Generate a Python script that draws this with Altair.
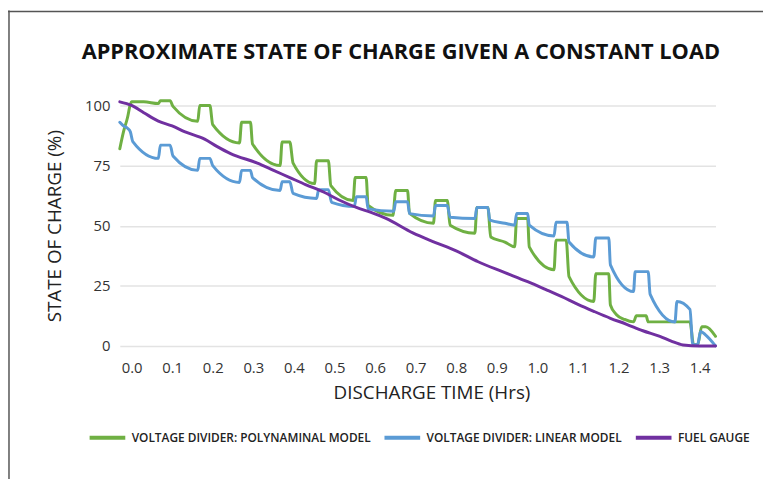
import altair as alt
import pandas as pd

series_names = [
    "VOLTAGE DIVIDER: POLYNAMINAL MODEL",
    "VOLTAGE DIVIDER: LINEAR MODEL",
    "FUEL GAUGE",
]
series_colors = ["#6FB043", "#5B9BD5", "#7030A0"]

x_ticks = [0.0, 0.1, 0.2, 0.3, 0.4, 0.5, 0.6, 0.7, 0.8, 0.9, 1.0, 1.1, 1.2, 1.3, 1.4]
y_ticks = [0, 25, 50, 75, 100]

green_t = [-0.029, -0.020, -0.010, -0.003, 0.000, 0.030, 0.066, 0.071, 0.095, 0.102,
           0.163, 0.168, 0.193, 0.200, 0.266, 0.271, 0.293, 0.298, 0.366, 0.371,
           0.390, 0.398, 0.451, 0.456, 0.485, 0.491, 0.546, 0.551, 0.578, 0.583,
           0.644, 0.651, 0.680, 0.685, 0.744, 0.749, 0.778, 0.785, 0.846, 0.851,
           0.878, 0.885, 0.920, 0.944, 0.949, 0.976, 0.980, 1.041, 1.046, 1.071,
           1.078, 1.139, 1.144, 1.176, 1.180, 1.195, 1.215, 1.237, 1.244, 1.268,
           1.273, 1.376, 1.385, 1.395, 1.405, 1.415, 1.439]
green_v = [82, 89, 95, 100.5, 101.5, 101.5, 100.8, 102, 102, 99.6,
           93.4, 100, 100, 92, 84.4, 93, 93, 84, 75, 84.8,
           84.8, 76, 67.5, 77, 77, 66.7, 60.5, 70, 70, 58.4,
           54.3, 64.6, 64.6, 55.1, 51, 60.5, 60.5, 50.2, 46.9, 57.6,
           57.6, 45.3, 43.2, 41.2, 53, 53, 41.2, 31.7, 44, 44,
           28.8, 18.5, 30, 30, 17, 13, 11, 10, 12.5, 12.5,
           10, 10, 0.5, 0.5, 8, 8, 4]

blue_t = [-0.029, -0.020, -0.010, -0.003, 0.003, 0.066, 0.071, 0.095, 0.102, 0.163,
          0.168, 0.193, 0.200, 0.266, 0.271, 0.293, 0.298, 0.366, 0.371, 0.390,
          0.398, 0.456, 0.461, 0.485, 0.493, 0.549, 0.554, 0.578, 0.583, 0.646,
          0.651, 0.680, 0.685, 0.744, 0.749, 0.778, 0.785, 0.846, 0.851, 0.878,
          0.883, 0.920, 0.944, 0.949, 0.976, 0.980, 1.041, 1.046, 1.073, 1.078,
          1.139, 1.144, 1.176, 1.180, 1.237, 1.241, 1.273, 1.278, 1.339, 1.344,
          1.376, 1.383, 1.395, 1.402, 1.415, 1.439]
blue_v = [93, 91.5, 90.5, 89, 85, 78, 83.5, 83.5, 79, 73,
          78, 78, 75, 68, 73, 73, 70, 64.6, 68.3, 68.3,
          63.4, 61.3, 65, 65, 59.7, 58, 62, 62, 57, 56,
          60, 60, 55, 54, 58.4, 58.4, 53.5, 53, 57.6, 57.6,
          52.3, 51, 50.2, 55.1, 55.1, 50.2, 45.7, 51.4, 51.4, 43.2,
          37, 44.9, 44.9, 33.7, 22.6, 30.9, 30.9, 21.4, 9.9, 18.5,
          15.2, 0.5, 0.5, 6, 4.5, 0]

purple_t = [-0.029, 0.000, 0.030, 0.066, 0.100, 0.132, 0.180, 0.210, 0.244, 0.310,
            0.350, 0.390, 0.430, 0.473, 0.510, 0.554, 0.590, 0.627, 0.693, 0.749,
            0.800, 0.854, 0.920, 0.976, 1.020, 1.059, 1.100, 1.139, 1.180, 1.220,
            1.260, 1.302, 1.330, 1.359, 1.400, 1.439]
purple_v = [101.5, 100, 97, 93.5, 91.5, 89, 86, 83, 80, 76,
            73, 70, 67, 64, 60.8, 57.6, 55.5, 53, 47, 43,
            39.5, 35, 30.5, 26.7, 23.5, 20.6, 17.3, 14.4, 11.5, 9,
            6.3, 4, 2, 0.4, 0, 0]

rows = []
for name, ts, vs in zip(series_names, [green_t, blue_t, purple_t], [green_v, blue_v, purple_v]):
    for i, (t, v) in enumerate(zip(ts, vs)):
        rows.append({"series": name, "t": t, "v": v, "i": i})
df = pd.DataFrame(rows)

FONT = "Open Sans"

lines = alt.Chart(df).mark_line(strokeWidth=3, strokeJoin="round", strokeCap="round",
                                interpolate="monotone").encode(
    x=alt.X("t:Q",
            scale=alt.Scale(domain=[-0.029, 1.439], nice=False, zero=False),
            axis=alt.Axis(values=x_ticks, format=".1f", title="DISCHARGE TIME (Hrs)",
                          grid=False, domain=False, ticks=False,
                          labelPadding=15, titlePadding=8, titleX=315,
                          labelFontSize=15, titleFontSize=19, titleFontWeight="normal",
                          labelColor="#333333", titleColor="#222222",
                          labelFont=FONT, titleFont=FONT)),
    y=alt.Y("v:Q",
            scale=alt.Scale(domain=[0, 100], nice=False),
            axis=alt.Axis(values=y_ticks, title="STATE OF CHARGE (%)",
                          domain=False, ticks=False, gridColor="#e3e3e3", gridWidth=1.5,
                          labelPadding=10, titlePadding=20,
                          labelFontSize=15, titleFontSize=19, titleFontWeight="normal",
                          labelColor="#333333", titleColor="#222222",
                          labelFont=FONT, titleFont=FONT)),
    color=alt.Color("series:N",
                    scale=alt.Scale(domain=series_names, range=series_colors),
                    sort=series_names,
                    legend=alt.Legend(title=None, orient="none", direction="horizontal",
                                      legendX=-33, legendY=315,
                                      symbolType="stroke", symbolSize=1300,
                                      symbolStrokeWidth=4, labelFontSize=12,
                                      labelFontWeight=600,
                                      labelFont=FONT, labelColor="#222222",
                                      labelLimit=400,
                                      labelOffset=4, columnPadding=5)),
    order="i:Q",
)

frame_df = pd.DataFrame({"a": [0]})
left_border = alt.Chart(frame_df).mark_rule(color="#555555", strokeWidth=1.5).encode(
    x=alt.value(-112), y=alt.value(-96), y2=alt.value(380))
top_border = alt.Chart(frame_df).mark_rule(color="#555555", strokeWidth=1.5).encode(
    x=alt.value(-113), x2=alt.value(660), y=alt.value(-95))

chart = alt.layer(lines, left_border, top_border).properties(
    width=602, height=243,
    title=alt.TitleParams("APPROXIMATE STATE OF CHARGE GIVEN A CONSTANT LOAD",
                          fontSize=22, fontWeight="bold", font=FONT, color="#111111",
                          anchor="middle", frame="group", offset=-55, dx=-17),
    autosize=alt.AutoSizeParams(type="none"),
    padding={"left": 113, "top": 96, "right": 48, "bottom": 132},
).configure_view(stroke=None)

chart.save("out.html", embed_options={"renderer": "svg", "actions": False})
